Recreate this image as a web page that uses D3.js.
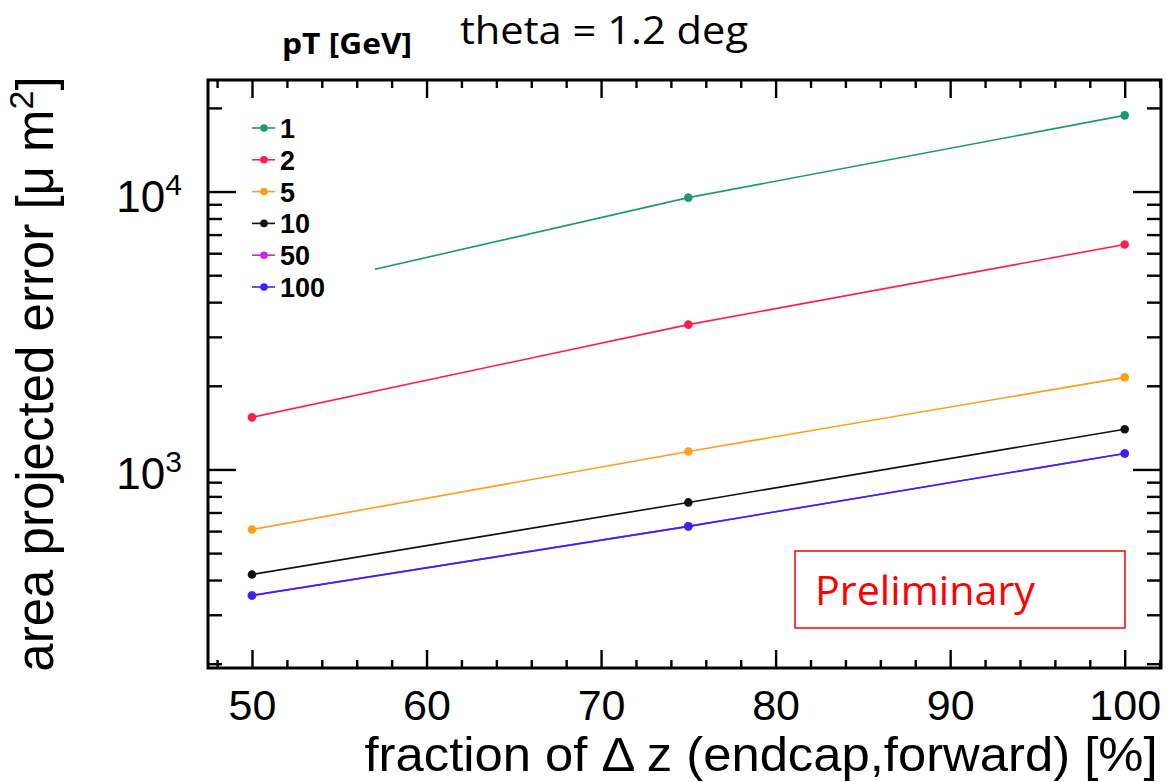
<!DOCTYPE html>
<html><head><meta charset="utf-8">
<script src="https://cdn.jsdelivr.net/npm/d3@7"></script>
<style>body{margin:0;background:#fff}svg{display:block}</style>
</head><body>
<svg id="c" width="1168" height="782"></svg>
<script>
const fractions = [50, 75, 100];
const seriesNames = ["1", "2", "5", "10", "50", "100"];
const seriesColors = ["#1f9a6e", "#ff1e4b", "#ff9e1e", "#111111", "#cc22ee", "#3a22ff"];
const pt1 = [4160, 9510, 18800];
const pt2 = [1540, 3320, 6450];
const pt5 = [608, 1160, 2145];
const pt10 = [419, 761, 1395];
const pt50 = [352, 624, 1142];
const pt100 = [352, 624, 1142];
const seriesValues = [pt1, pt2, pt5, pt10, pt50, pt100];
const xMajorTicks = [50, 60, 70, 80, 90, 100];
const xMinorTicks = [48, 52, 54, 56, 58, 62, 64, 66, 68, 72, 74, 76, 78, 82, 84, 86, 88, 92, 94, 96, 98, 102];
const yMajorTicks = [1000, 10000];
const yMinorTicks = [200, 300, 400, 500, 600, 700, 800, 900, 2000, 3000, 4000, 5000, 6000, 7000, 8000, 9000, 20000];

const svg = d3.select("#c");
const L = 208, R = 1161, T = 80, B = 668;
const HEL = "Liberation Sans, Arial, Helvetica, sans-serif";
const CAL = "Open Sans, Noto Sans, sans-serif";
const x = d3.scaleLinear().domain([47.48, 102.08]).range([L, R]);
const y = d3.scaleLog().domain([193, 25200]).range([B, T]);

// series
const line = d3.line().x((d, i) => x(fractions[i])).y(d => y(d));
seriesValues.forEach((vals, k) => {
  const g = svg.append("g");
  g.append("path").datum(vals).attr("d", line).attr("fill", "none")
    .attr("stroke", seriesColors[k]).attr("stroke-width", 1.6);
  g.selectAll("circle").data(vals).join("circle")
    .attr("cx", (d, i) => x(fractions[i])).attr("cy", d => y(d)).attr("r", 4.3)
    .attr("fill", seriesColors[k]);
});

// legend with white background
const lg = svg.append("g");
lg.append("rect").attr("x", L + 2).attr("y", T + 2).attr("width", 375 - L - 2).attr("height", 302 - T - 2).attr("fill", "#fff");
seriesNames.forEach((n, k) => {
  const yy = 128 + k * 31.8;
  lg.append("line").attr("x1", 252).attr("x2", 275).attr("y1", yy).attr("y2", yy)
    .attr("stroke", seriesColors[k]).attr("stroke-width", 1.6);
  lg.append("circle").attr("cx", 264).attr("cy", yy).attr("r", 3.8).attr("fill", seriesColors[k]);
  lg.append("text").attr("x", 280).attr("y", yy + 10).text(n)
    .attr("font-family", HEL).attr("font-weight", "bold")
    .attr("font-size", 27).attr("fill", "#000");
});

// ticks
function ticks(axisFn, scale, vals, size, tx, ty) {
  const g = svg.append("g").attr("transform", `translate(${tx},${ty})`)
    .call(axisFn(scale).tickValues(vals).tickSizeInner(-size).tickSizeOuter(0).tickFormat(""));
  g.select(".domain").remove();
  g.selectAll("line").attr("stroke", "#000").attr("stroke-width", 2.4);
}
ticks(d3.axisBottom, x, xMajorTicks, 18, 0, B);
ticks(d3.axisBottom, x, xMinorTicks, 8, 0, B);
ticks(d3.axisTop, x, xMajorTicks, 18, 0, T);
ticks(d3.axisTop, x, xMinorTicks, 8, 0, T);
ticks(d3.axisLeft, y, yMajorTicks, 28, L, 0);
ticks(d3.axisLeft, y, yMinorTicks, 14, L, 0);
ticks(d3.axisRight, y, yMajorTicks, 28, R, 0);
ticks(d3.axisRight, y, yMinorTicks, 14, R, 0);

svg.append("rect").attr("x", L).attr("y", T).attr("width", R - L).attr("height", B - T)
  .attr("fill", "none").attr("stroke", "#000").attr("stroke-width", 3);

// x tick labels
const xl = svg.append("g").attr("transform", `translate(0,${B})`)
  .call(d3.axisBottom(x).tickValues(xMajorTicks).tickSize(0).tickPadding(0));
xl.select(".domain").remove();
xl.selectAll("text").attr("font-family", HEL).attr("font-size", 43).attr("fill", "#000")
  .attr("dy", 0).attr("y", 720 - B);

// y tick labels
yMajorTicks.forEach(v => {
  const t = svg.append("text").attr("x", 182).attr("y", y(v) + 20).attr("text-anchor", "end")
    .attr("font-family", HEL).attr("font-size", 44).attr("fill", "#000");
  t.append("tspan").text("10");
  t.append("tspan").text(String(Math.round(Math.log10(v)))).attr("font-size", 30).attr("dy", -17);
});

// axis titles
svg.append("text").attr("x", 761).attr("y", 771).attr("text-anchor", "middle")
  .attr("font-family", HEL).attr("font-size", 49).attr("fill", "#000")
  .attr("textLength", 793).attr("lengthAdjust", "spacingAndGlyphs")
  .text("fraction of \u0394 z (endcap,forward) [%]");
const yt = svg.append("text").attr("transform", "translate(53,374) rotate(-90)").attr("text-anchor", "middle")
  .attr("font-family", HEL).attr("font-size", 51).attr("fill", "#000");
yt.append("tspan").text("area projected error [\u03bc m");
yt.append("tspan").text("2").attr("font-size", 34).attr("dy", -20);
yt.append("tspan").text("]").attr("dy", 20);

// title texts
svg.append("text").attr("x", 460).attr("y", 44).attr("font-family", CAL)
  .attr("font-size", 38).attr("fill", "#000")
  .attr("textLength", 288).attr("lengthAdjust", "spacingAndGlyphs").text("theta = 1.2 deg");
svg.append("text").attr("x", 282).attr("y", 54).attr("font-family", CAL)
  .attr("font-weight", "bold").attr("font-size", 28).attr("fill", "#000")
  .attr("textLength", 130).attr("lengthAdjust", "spacingAndGlyphs").text("pT [GeV]");

// preliminary box
svg.append("rect").attr("x", 795).attr("y", 551).attr("width", 330).attr("height", 77)
  .attr("fill", "none").attr("stroke", "#ff0000").attr("stroke-width", 1.5);
svg.append("text").attr("x", 815).attr("y", 605).attr("font-family", CAL)
  .attr("font-size", 41).attr("fill", "#ff0000")
  .attr("textLength", 220).attr("lengthAdjust", "spacingAndGlyphs").text("Preliminary");
</script>
</body></html>
